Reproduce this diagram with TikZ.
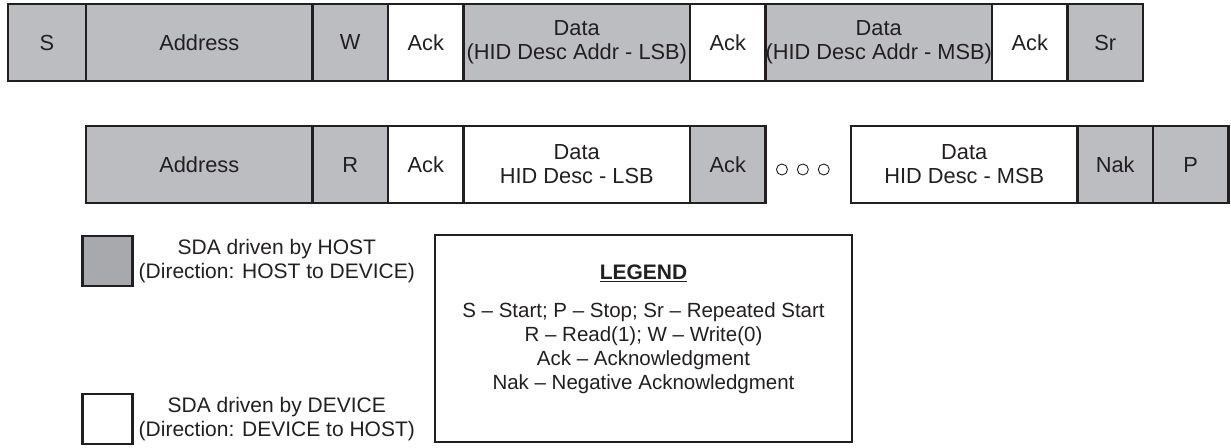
\documentclass[tikz,border=0pt]{standalone}
\usepackage{fontspec}
\setmainfont{Liberation Sans}
\usetikzlibrary{positioning}
\definecolor{hostgray}{RGB}{188,189,192}
\definecolor{keygray}{RGB}{168,169,172}
\definecolor{inkgray}{RGB}{35,31,32}
\tikzset{node distance = 0pt}

\begin{document}
\begin{tikzpicture}[x=1pt, y=-1pt, font=\fontsize{21}{24}\selectfont, text=inkgray,
field/.style={rectangle, draw=inkgray, line width=2.5pt, outer sep=0pt, inner sep=0pt, minimum height=77pt, align=center, font=\fontsize{21.8}{24}\selectfont},
host_field/.style={field, fill=hostgray}, device_field/.style={field, fill=white},
small/.style={minimum width=75.5pt}, wide/.style={minimum width=226.5pt},
dot/.style={circle, draw=inkgray, line width=0.9pt, minimum size=11pt, inner sep=0pt},
key/.style={rectangle, draw=inkgray, line width=2.5pt, outer sep=0pt, minimum size=50pt},
note/.style={align=center, inner sep=0pt}]
    \useasboundingbox (0,0) rectangle (1231,447);

    % write transfer
    \node[host_field, minimum width=78pt, anchor=west] (s) at (8,42.5) {S};
    \node[host_field, wide, right=of s] (addrw) {Address};
    \node[host_field, small, right=of addrw] (w) {W};
    \node[device_field, small, right=of w] (ackw1) {Ack};
    \node[host_field, wide, right=of ackw1] (addrlsb) {Data\\(HID Desc Addr - LSB)};
    \node[device_field, small, right=of addrlsb] (ackw2) {Ack};
    \node[host_field, wide, right=of ackw2] (addrmsb) {Data\\(HID Desc Addr - MSB)};
    \node[device_field, small, right=of addrmsb] (ackw3) {Ack};
    \node[host_field, small, right=of ackw3] (sr) {Sr};

    % read transfer
    \node[host_field, wide, below=45pt of addrw] (addrr) {Address};
    \node[host_field, small, right=of addrr] (r) {R};
    \node[device_field, small, right=of r] (ackr1) {Ack};
    \node[device_field, wide, right=of ackr1] (desclsb) {Data\\HID Desc - LSB};
    \node[host_field, small, right=of desclsb] (ackr2) {Ack};
    \node[dot, right=10.5pt of ackr2, yshift=-5pt] (dot1) {};
    \node[dot, right=9pt of dot1] (dot2) {};
    \node[dot, right=9pt of dot2] (dot3) {};
    \node[device_field, wide, right=85.5pt of ackr2] (descmsb) {Data\\HID Desc - MSB};
    \node[host_field, small, right=of descmsb] (nak) {Nak};
    \node[host_field, small, right=of nak] (p) {P};

    % key
    \node[key, fill=keygray] (keyhost) at (107.5,261) {};
    \node[note, right=6pt of keyhost] (keyhosttext) {SDA driven by HOST\\(Direction: HOST to DEVICE)};
    \node[key, fill=white] (keydevice) at (107.5,419) {};
    \node[note, right=6pt of keydevice] (keydevicetext) {SDA driven by DEVICE\\(Direction: DEVICE to HOST)};

    % legend
    \node[rectangle, draw=inkgray, line width=2.5pt, outer sep=0pt, minimum width=417pt, minimum height=207pt] (legend) at (643.5,338.5) {};
    \node[note, below=30pt of legend.north] (legendtitle) {\bfseries\underline{LEGEND}};
    \node[note, below=20pt of legendtitle, font=\fontsize{20.5}{24}\selectfont] (legendbody) {S – Start; P – Stop; Sr – Repeated Start\\R – Read(1); W – Write(0)\\Ack – Acknowledgment\\Nak – Negative Acknowledgment};
\end{tikzpicture}
\end{document}
